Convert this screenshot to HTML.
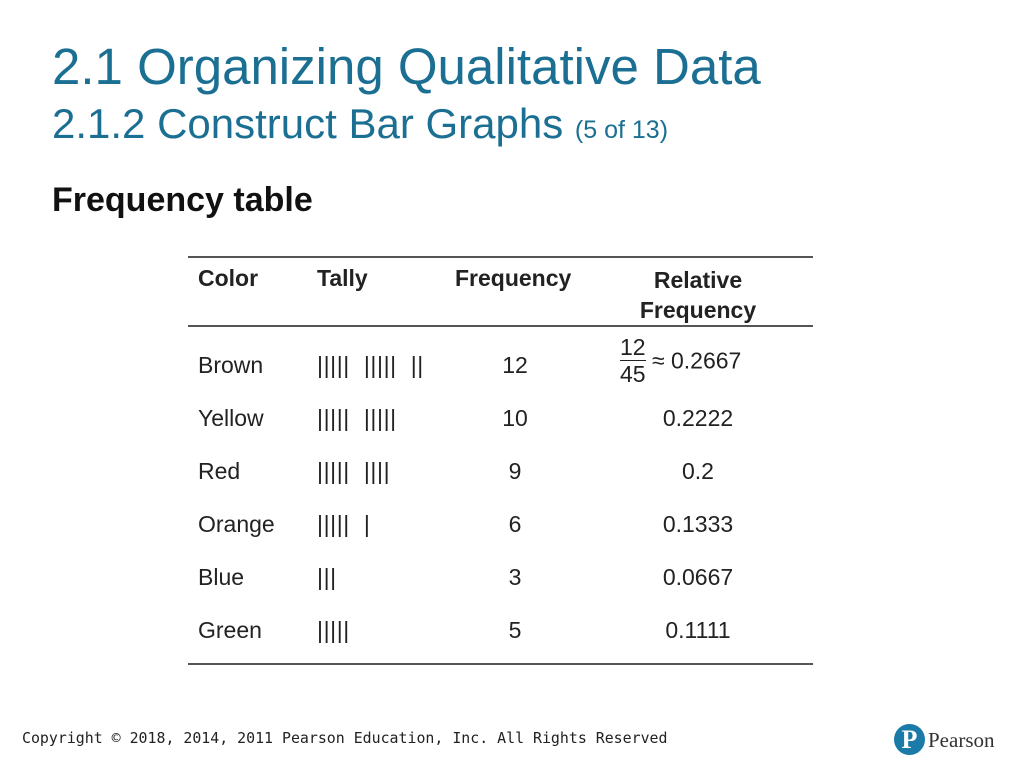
<!DOCTYPE html>
<html><head><meta charset="utf-8"><style>
body{margin:0;width:1024px;height:768px;background:#fff;position:relative;overflow:hidden;font-family:"Liberation Sans",sans-serif}
.a{position:absolute;white-space:nowrap}
.t{color:#1b6f92}
.h{font-weight:bold;font-size:23px;color:#222}
.c{font-size:23px;color:#222}
.line{position:absolute;left:188px;width:625px;height:2px;background:#555}
</style></head><body>
<div class="a t" style="left:52px;top:37px;font-size:51px">2.1 Organizing Qualitative Data</div>
<div class="a t" style="left:52px;top:100px;font-size:42px">2.1.2 Construct Bar Graphs <span style="font-size:25px">(5 of 13)</span></div>
<div class="a" style="left:52px;top:181px;font-size:34px;font-weight:bold;color:#111">Frequency table</div>
<div>
<div class="line" style="top:256px"></div>
<div class="line" style="top:325px"></div>
<div class="line" style="top:663px"></div>
<div class="a h" style="left:198px;top:265px">Color</div>
<div class="a h" style="left:317px;top:265px">Tally</div>
<div class="a h" style="left:455px;top:265px">Frequency</div>
<div class="a h" style="left:618px;top:265px;width:160px;text-align:center;line-height:30px">Relative<br>Frequency</div>
<div id="rows"></div>
</div>
<div class="a" style="left:22px;top:729px;font-family:'DejaVu Sans Mono',monospace;font-size:14.9px;color:#222">Copyright © 2018, 2014, 2011 Pearson Education, Inc. All Rights Reserved</div>
<div class="a" style="left:894px;top:724px;width:31px;height:31px;border-radius:50%;background:#1a7aa8;color:#fff;font-family:'Liberation Serif',serif;font-weight:bold;font-size:26px;text-align:center;line-height:31px">P</div>
<div class="a" style="left:928px;top:728px;font-family:'Liberation Serif',serif;font-size:21px;color:#333">Pearson</div>
<script>
const colors=["Brown","Yellow","Red","Orange","Blue","Green"];
const tallies=["||||| ||||| ||","||||| |||||","||||| ||||","||||| |","|||","|||||"];
const freqs=["12","10","9","6","3","5"];
const rel=["0.2667","0.2222","0.2","0.1333","0.0667","0.1111"];
const rows=document.getElementById('rows');
colors.forEach((c,i)=>{
 const top=352+i*53;
 const mk=(txt,left,extra)=>{const d=document.createElement('div');d.className='a c';d.style.left=left+'px';d.style.top=top+'px';if(extra)Object.assign(d.style,extra);d.textContent=txt;rows.appendChild(d);return d;};
 let e=mk(c,198);
 
 
 e=mk(tallies[i],317,{letterSpacing:'0.6px',whiteSpace:'pre'});
 e.textContent=tallies[i].replace(/ /g,'  ');
 
 
 e=mk(freqs[i],475,{});e.style.width='80px';e.style.textAlign='center';
 
 
 if(i===0){
  e=mk('',620);e.innerHTML='<span style="display:inline-block;text-align:center;vertical-align:middle;line-height:26px;position:relative;top:-2px"><span style="display:block;border-bottom:1.5px solid #222">12</span><span style="display:block">45</span></span> ≈ '+rel[i];
  e.style.top=(top-16)+'px';
 } else {e=mk(rel[i],638,{});e.style.width='120px';e.style.textAlign='center';}
 
 
});
</script>
</body></html>
